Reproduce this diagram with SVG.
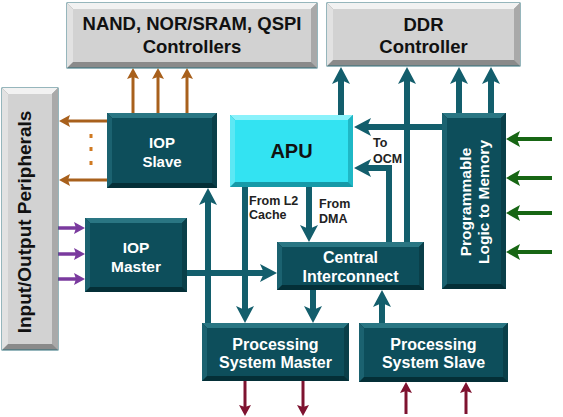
<svg xmlns="http://www.w3.org/2000/svg" width="563" height="417" viewBox="0 0 563 417">
<defs>
<marker id="mT" markerUnits="userSpaceOnUse" markerWidth="18" markerHeight="18" refX="6" refY="9" orient="auto"><path d="M0,0 L17,9 L0,18 L4,9 z" fill="#135e6c"/></marker>
<marker id="mB" markerUnits="userSpaceOnUse" markerWidth="12" markerHeight="12" refX="4" refY="6" orient="auto"><path d="M0,0 L11,6 L0,12 L2,6 z" fill="#a8601c"/></marker>
<marker id="mP" markerUnits="userSpaceOnUse" markerWidth="12" markerHeight="12" refX="4" refY="6" orient="auto"><path d="M0,0 L11,6 L0,12 L2,6 z" fill="#7a3a9e"/></marker>
<marker id="mG" markerUnits="userSpaceOnUse" markerWidth="16" markerHeight="16" refX="4" refY="8" orient="auto"><path d="M0,0 L14,8 L0,16 L3,8 z" fill="#176614"/></marker>
<marker id="mR" markerUnits="userSpaceOnUse" markerWidth="12" markerHeight="12" refX="4" refY="6" orient="auto"><path d="M0,0 L11,6 L0,12 L2,6 z" fill="#7e1330"/></marker>
</defs>
<style>
.gb{fill:#8a8a8a;stroke:#2f6f7a;stroke-width:1}
.gt{fill:#f2f2f2}.gl{fill:#e2e2e2}.gr{fill:#a9a9a9}.gf{fill:#d2d2d2}
.tb{fill:#042f37}.tt{fill:#2a7683}.tl{fill:#1b6270}.tr{fill:#0a3f49}.tf{fill:#0d4e5b}
.cb{fill:#169aa8}.ct{fill:#8af2fb}.cl{fill:#5ce8f4}.cr{fill:#1fb8c6}.cf{fill:#33e3f2}
.wt{font-family:"Liberation Sans",Arial,sans-serif;font-weight:bold;fill:#ffffff;text-anchor:middle}
.bt{font-family:"Liberation Sans",Arial,sans-serif;font-weight:bold;fill:#111111;text-anchor:middle}
.lb{font-family:"Liberation Sans",Arial,sans-serif;font-weight:bold;font-size:12.5px;fill:#222222}
.ct1{fill:none;stroke:#135e6c;stroke-width:6;marker-end:url(#mT)}
.cbr{fill:none;stroke:#a8601c;stroke-width:3;marker-end:url(#mB)}
.cpu{fill:none;stroke:#7a3a9e;stroke-width:3.5;marker-end:url(#mP)}
.cgr{fill:none;stroke:#176614;stroke-width:4;marker-end:url(#mG)}
.crd{fill:none;stroke:#7e1330;stroke-width:3;marker-end:url(#mR)}
</style>
<rect width="563" height="417" fill="#ffffff"/>

<g id="connectors">
<path class="ct1" d="M341,115 V78"/>
<path class="ct1" d="M407,242 V78"/>
<path class="ct1" d="M459,113 V78"/>
<path class="ct1" d="M491,113 V78"/>
<path class="ct1" d="M442,127 H365"/>
<path class="ct1" d="M389,242 V168 H365"/>
<path class="ct1" d="M245,187 V312"/>
<path class="ct1" d="M309,187 V231"/>
<path class="ct1" d="M208,323 V199"/>
<path class="ct1" d="M187,273 H266"/>
<path class="ct1" d="M313,290 V312"/>
<path class="ct1" d="M382,323 V301"/>
<path class="cbr" d="M133,113 V75"/>
<path class="cbr" d="M158,113 V75"/>
<path class="cbr" d="M187,113 V75"/>
<path class="cbr" d="M107,121 H66"/>
<path class="cbr" d="M107,180 H66"/>
<rect x="89.5" y="134" width="3" height="4" fill="#d07a22"/>
<rect x="89.5" y="147" width="3" height="4" fill="#d07a22"/>
<rect x="89.5" y="161" width="3" height="4" fill="#d07a22"/>
<path class="cpu" d="M58,228 H78"/>
<path class="cpu" d="M58,254 H78"/>
<path class="cpu" d="M58,279 H78"/>
<path class="cgr" d="M552,139 H516"/>
<path class="cgr" d="M552,178 H516"/>
<path class="cgr" d="M552,213 H516"/>
<path class="cgr" d="M552,252 H516"/>
<path class="crd" d="M245,381 V409"/>
<path class="crd" d="M303,381 V409"/>
<path class="crd" d="M406,414 V389"/>
<path class="crd" d="M466,414 V389"/>
</g>

<g id="nand">
<rect class="gb" x="67" y="3" width="250" height="65"/>
<polygon class="gt" points="67,3 317,3 311,9 73,9"/>
<polygon class="gl" points="67,3 73,9 73,62 67,68"/>
<polygon class="gr" points="317,3 317,68 311,62 311,9"/>
<rect class="gf" x="73" y="9" width="238" height="53"/>
<text class="bt" x="192" y="30" font-size="18.5">NAND, NOR/SRAM, QSPI</text>
<text class="bt" x="192" y="53" font-size="18.5">Controllers</text>
</g>

<g id="ddr">
<rect class="gb" x="327" y="3" width="193" height="63"/>
<polygon class="gt" points="327,3 520,3 514,9 333,9"/>
<polygon class="gl" points="327,3 333,9 333,60 327,66"/>
<polygon class="gr" points="520,3 520,66 514,60 514,9"/>
<rect class="gf" x="333" y="9" width="181" height="51"/>
<text class="bt" x="423.5" y="31" font-size="18.5">DDR</text>
<text class="bt" x="423.5" y="53" font-size="18.5">Controller</text>
</g>

<g id="io">
<rect class="gb" x="2" y="88" width="56" height="262"/>
<polygon class="gt" points="2,88 58,88 52,94 8,94"/>
<polygon class="gl" points="2,88 8,94 8,344 2,350"/>
<polygon class="gr" points="58,88 58,350 52,344 52,94"/>
<rect class="gf" x="8" y="94" width="44" height="250"/>
<text class="bt" transform="translate(31,222) rotate(-90)" font-size="19">Input/Output Peripherals</text>
</g>

<g id="iop-slave">
<rect class="tb" x="107" y="113" width="110" height="75"/>
<polygon class="tt" points="107,113 217,113 212,118 112,118"/>
<polygon class="tl" points="107,113 112,118 112,183 107,188"/>
<polygon class="tr" points="217,113 217,188 212,183 212,118"/>
<rect class="tf" x="112" y="118" width="100" height="65"/>
<text class="wt" x="162" y="148" font-size="15">IOP</text>
<text class="wt" x="162" y="167" font-size="15">Slave</text>
</g>

<g id="apu">
<rect class="cb" x="230" y="115" width="123" height="72"/>
<polygon class="ct" points="230,115 353,115 348,120 235,120"/>
<polygon class="cl" points="230,115 235,120 235,182 230,187"/>
<polygon class="cr" points="353,115 353,187 348,182 348,120"/>
<rect class="cf" x="235" y="120" width="113" height="62"/>
<text class="bt" x="291.5" y="158" font-size="20">APU</text>
</g>

<g id="iop-master">
<rect class="tb" x="85" y="218" width="102" height="74"/>
<polygon class="tt" points="85,218 187,218 182,223 90,223"/>
<polygon class="tl" points="85,218 90,223 90,287 85,292"/>
<polygon class="tr" points="187,218 187,292 182,287 182,223"/>
<rect class="tf" x="90" y="223" width="92" height="64"/>
<text class="wt" x="136" y="253" font-size="15.5">IOP</text>
<text class="wt" x="136" y="272" font-size="15.5">Master</text>
</g>

<g id="central-interconnect">
<rect class="tb" x="277" y="242" width="147" height="48"/>
<polygon class="tt" points="277,242 424,242 419,247 282,247"/>
<polygon class="tl" points="277,242 282,247 282,285 277,290"/>
<polygon class="tr" points="424,242 424,290 419,285 419,247"/>
<rect class="tf" x="282" y="247" width="137" height="38"/>
<text class="wt" x="350.5" y="263" font-size="16">Central</text>
<text class="wt" x="350.5" y="282" font-size="16">Interconnect</text>
</g>

<g id="pl-to-memory">
<rect class="tb" x="442" y="113" width="64" height="176"/>
<polygon class="tt" points="442,113 506,113 501,118 447,118"/>
<polygon class="tl" points="442,113 447,118 447,284 442,289"/>
<polygon class="tr" points="506,113 506,289 501,284 501,118"/>
<rect class="tf" x="447" y="118" width="54" height="166"/>
<text class="wt" transform="translate(471,202) rotate(-90)" font-size="15.5">Programmable</text>
<text class="wt" transform="translate(489,202) rotate(-90)" font-size="15.5">Logic to Memory</text>
</g>

<g id="ps-master">
<rect class="tb" x="202" y="323" width="147" height="58"/>
<polygon class="tt" points="202,323 349,323 344,328 207,328"/>
<polygon class="tl" points="202,323 207,328 207,376 202,381"/>
<polygon class="tr" points="349,323 349,381 344,376 344,328"/>
<rect class="tf" x="207" y="328" width="137" height="48"/>
<text class="wt" x="275.5" y="350" font-size="16">Processing</text>
<text class="wt" x="275.5" y="368" font-size="16">System Master</text>
</g>

<g id="ps-slave">
<rect class="tb" x="359" y="323" width="149" height="59"/>
<polygon class="tt" points="359,323 508,323 503,328 364,328"/>
<polygon class="tl" points="359,323 364,328 364,377 359,382"/>
<polygon class="tr" points="508,323 508,382 503,377 503,328"/>
<rect class="tf" x="364" y="328" width="139" height="49"/>
<text class="wt" x="433.5" y="350" font-size="16">Processing</text>
<text class="wt" x="433.5" y="368" font-size="16">System Slave</text>
</g>

<g id="labels">
<text class="lb" x="249" y="205">From L2</text>
<text class="lb" x="249" y="219">Cache</text>
<text class="lb" x="319" y="208">From</text>
<text class="lb" x="319" y="223">DMA</text>
<text class="lb" x="373" y="147">To</text>
<text class="lb" x="373" y="163">OCM</text>
</g>
</svg>
